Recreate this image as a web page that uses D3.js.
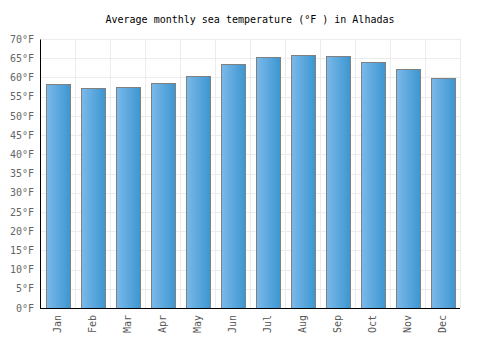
<!DOCTYPE html>
<html>
<head>
<meta charset="utf-8">
<script src="https://cdn.jsdelivr.net/npm/d3@7"></script>
<style>
body { margin: 0; background: #fff; }
text { font-family: "DejaVu Sans Mono", monospace; }
</style>
</head>
<body>
<div class="container"></div>
<script>
var months = ["Jan","Feb","Mar","Apr","May","Jun","Jul","Aug","Sep","Oct","Nov","Dec"];
var seaTemps = [58.2, 57.2, 57.5, 58.5, 60.4, 63.4, 65.2, 65.9, 65.5, 63.9, 62.1, 59.8];
var yTicks = [0,5,10,15,20,25,30,35,40,45,50,55,60,65,70];

const WIDTH = 500;
const HEIGHT = 350;
const LEFT = 40, RIGHT = 460, TOP = 39, BOTTOM = 308;

var translate = function(x, y){
	return "translate("+x+","+y+")";
};

var svg = d3.select('.container').append('svg')
	.attr('width', WIDTH)
	.attr('height', HEIGHT);

var grad = svg.append('defs').append('linearGradient')
	.attr('id', 'barGrad')
	.attr('x1', '0%').attr('x2', '100%')
	.attr('y1', '0%').attr('y2', '0%');
grad.append('stop').attr('offset', '0%').attr('stop-color', '#7bb9ea');
grad.append('stop').attr('offset', '100%').attr('stop-color', '#3c96d0');

var xScale = d3.scaleBand()
	.domain(months)
	.range([LEFT, RIGHT])
	.paddingInner(0.32)
	.paddingOuter(0.16);

var yScale = d3.scaleLinear()
	.domain([0, 70])
	.range([BOTTOM, TOP]);

// grid
svg.append('g').selectAll('line.h').data(yTicks)
	.enter().append('line')
	.attr('x1', LEFT).attr('x2', RIGHT)
	.attr('y1', function(d){ return Math.round(yScale(d)) + 0.5; })
	.attr('y2', function(d){ return Math.round(yScale(d)) + 0.5; })
	.attr('stroke', '#ececec');

var bandStep = (RIGHT - LEFT) / months.length;
svg.append('g').selectAll('line.v').data(d3.range(months.length + 1))
	.enter().append('line')
	.attr('x1', function(i){ return Math.round(LEFT + i * bandStep) + 0.5; })
	.attr('x2', function(i){ return Math.round(LEFT + i * bandStep) + 0.5; })
	.attr('y1', TOP).attr('y2', BOTTOM)
	.attr('stroke', '#ececec');

// bars
svg.append('g').selectAll('rect').data(seaTemps)
	.enter().append('rect')
	.attr('x', function(d, i){ return Math.round(xScale(months[i])) + 0.5; })
	.attr('width', Math.round(xScale.bandwidth()))
	.attr('y', function(d){ return Math.round(yScale(d)) + 0.5; })
	.attr('height', function(d){ return Math.round(BOTTOM - yScale(d)); })
	.attr('fill', 'url(#barGrad)')
	.attr('stroke', '#808080')
	.attr('stroke-width', 1);

// y axis
var yAxis = d3.axisLeft(yScale)
	.tickValues(yTicks)
	.tickSize(0)
	.tickPadding(6)
	.tickFormat(function(d){ return d + "°F"; });

var yG = svg.append('g')
	.attr('transform', translate(LEFT, 0))
	.call(yAxis);
yG.select('.domain').attr('stroke', '#000');
yG.selectAll('text')
	.attr('fill', '#666')
	.style('font-size', '10px');

// x axis
var xAxis = d3.axisBottom(xScale).tickSize(0).tickPadding(6);
var xG = svg.append('g')
	.attr('transform', translate(0, BOTTOM))
	.call(xAxis);
xG.select('.domain').attr('stroke', '#000').attr('d', 'M' + LEFT + ',0.5H' + RIGHT);
xG.selectAll('text')
	.attr('fill', '#555')
	.style('font-size', '10px')
	.attr('transform', 'rotate(-90)')
	.attr('text-anchor', 'end')
	.attr('x', -7)
	.attr('y', 0)
	.attr('dy', '0.35em');

// title
svg.append('text')
	.attr('x', 250)
	.attr('y', 23)
	.attr('text-anchor', 'middle')
	.style('font-size', '10px')
	.attr('fill', '#000')
	.text('Average monthly sea temperature (°F ) in Alhadas');
</script>
</body>
</html>
